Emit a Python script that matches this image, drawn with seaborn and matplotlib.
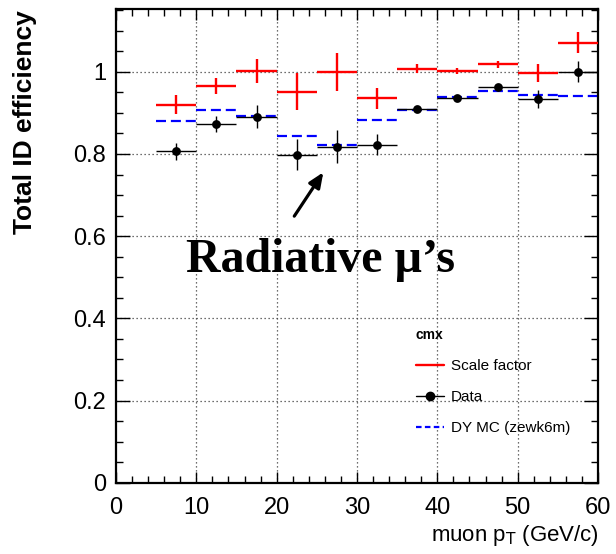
import numpy as np
import pandas as pd
import seaborn as sns
import matplotlib
matplotlib.use("Agg")
import matplotlib.pyplot as plt
from matplotlib.lines import Line2D
from matplotlib.ticker import MultipleLocator

# ---- data ----
bin_lo = [5, 10, 15, 20, 25, 30, 35, 40, 45, 50, 55]
bin_hi = [10, 15, 20, 25, 30, 35, 40, 45, 50, 55, 60]
sf_val = [0.920, 0.966, 1.002, 0.951, 0.999, 0.935, 1.007, 1.002, 1.018, 0.996, 1.071]
sf_err = [0.023, 0.020, 0.030, 0.045, 0.047, 0.026, 0.011, 0.007, 0.009, 0.022, 0.026]
data_val = [0.806, 0.873, 0.891, 0.798, 0.818, 0.823, 0.909, 0.936, 0.962, 0.934, 1.000]
data_err = [0.021, 0.019, 0.027, 0.038, 0.040, 0.025, 0.006, 0.006, 0.008, 0.021, 0.026]
mc_val = [0.879, 0.907, 0.892, 0.843, 0.822, 0.882, 0.907, 0.938, 0.953, 0.943, 0.940]
x_ticks = [0, 10, 20, 30, 40, 50, 60]
y_ticks = [0, 0.2, 0.4, 0.6, 0.8, 1.0]
legend_labels = ["Scale factor", "Data", "DY MC (zewk6m)"]

df = pd.DataFrame({"lo": bin_lo, "hi": bin_hi, "sf": sf_val, "sf_err": sf_err,
                   "data": data_val, "data_err": data_err, "mc": mc_val})
df["x"] = (df["lo"] + df["hi"]) / 2
df["xerr"] = (df["hi"] - df["lo"]) / 2

sns.set_theme(style="ticks")
plt.rcParams["font.family"] = ["Liberation Sans", "DejaVu Sans"]
plt.rcParams["text.color"] = "black"
plt.rcParams["axes.labelcolor"] = "black"
plt.rcParams["xtick.color"] = "black"
plt.rcParams["ytick.color"] = "black"

fig = plt.figure(figsize=(6.16, 5.54), dpi=100)
ax = fig.add_axes([0.1883, 0.1287, 0.7825, 0.8545])

# grid
for gx in [10, 20, 30, 40, 50]:
    ax.axvline(gx, color="0.25", lw=0.9, ls=(0, (1, 2.2)), zorder=0)
for gy in [0.2, 0.4, 0.6, 0.8, 1.0]:
    ax.axhline(gy, color="0.25", lw=0.9, ls=(0, (1, 2.2)), zorder=0)

# MC dashed segments
ax.hlines(df["mc"], df["lo"], df["hi"], colors="#0000ff", lw=1.6,
          linestyles=[(0, (4.5, 2.2))], zorder=2)

# Data
ax.errorbar(df["x"], df["data"], xerr=df["xerr"], yerr=df["data_err"], fmt="none",
            ecolor="black", elinewidth=1.0, capsize=0, zorder=3)
sns.scatterplot(data=df, x="x", y="data", ax=ax, color="black", s=40,
                edgecolor="black", linewidth=0, zorder=4, legend=False)

# Scale factor
ax.errorbar(df["x"], df["sf"], xerr=df["xerr"], yerr=df["sf_err"], fmt="none",
            ecolor="#ff0000", elinewidth=1.7, capsize=0, zorder=5)

ax.set_xlim(0, 60)
ax.set_ylim(0, 1.152)
ax.set_xticks(x_ticks)
ax.set_yticks(y_ticks)
ax.set_xticklabels([str(t) for t in x_ticks])
ax.set_yticklabels(["0", "0.2", "0.4", "0.6", "0.8", "1"])
ax.xaxis.set_minor_locator(MultipleLocator(2))
ax.yaxis.set_minor_locator(MultipleLocator(0.05))
ax.tick_params(which="both", direction="in", top=True, right=True, colors="black",
               labelsize=17, width=1.0)
ax.tick_params(which="major", length=10)
ax.tick_params(which="minor", length=5)
ax.tick_params(axis="y", which="major", pad=7)
ax.tick_params(axis="x", which="major", length=8, pad=10)
for s in ax.spines.values():
    s.set_linewidth(1.6)
    s.set_color("black")
ax.set_xlabel("")
ax.set_ylabel("")

fig.text(599 / 616, 1 - 536 / 554, "muon p$_{\\mathrm{T}}$ (GeV/c)", ha="right", va="center",
         fontsize=16)
fig.text(25.5 / 616, 1 - 10 / 554, "Total ID efficiency", rotation=90, ha="center", va="top",
         fontsize=19, fontweight="bold")

# annotation
ax.annotate("", xy=(26.0, 0.761), xytext=(22.0, 0.643),
            arrowprops=dict(arrowstyle="-|>,head_length=0.75,head_width=0.32", color="black", lw=2.3))
ax.text(25.4, 0.512, "Radiative \u00b5\u2019s", ha="center", va="baseline", color="black",
        fontsize=34.5, fontweight="bold", family=["Liberation Serif", "DejaVu Serif"])

# legend
handles = [Line2D([], [], color="#ff0000", lw=1.7),
           Line2D([], [], color="black", lw=1.0, marker="o", markersize=6),
           Line2D([], [], color="#0000ff", lw=1.6, ls=(0, (2.5, 1.5)))]
leg = ax.legend(handles, legend_labels, title="cmx", frameon=False, fontsize=11,
                loc="upper left", bbox_to_anchor=(416 / 616, 1 - 328 / 554),
                bbox_transform=fig.transFigure, handlelength=1.8, handletextpad=0.5,
                labelspacing=1.12, borderaxespad=0, borderpad=0)
leg.get_title().set_fontweight("bold")
leg.get_title().set_fontsize(10)
leg._legend_box.align = "left"
for t in leg.get_texts():
    t.set_color("black")

fig.savefig("out.png", dpi=100)
